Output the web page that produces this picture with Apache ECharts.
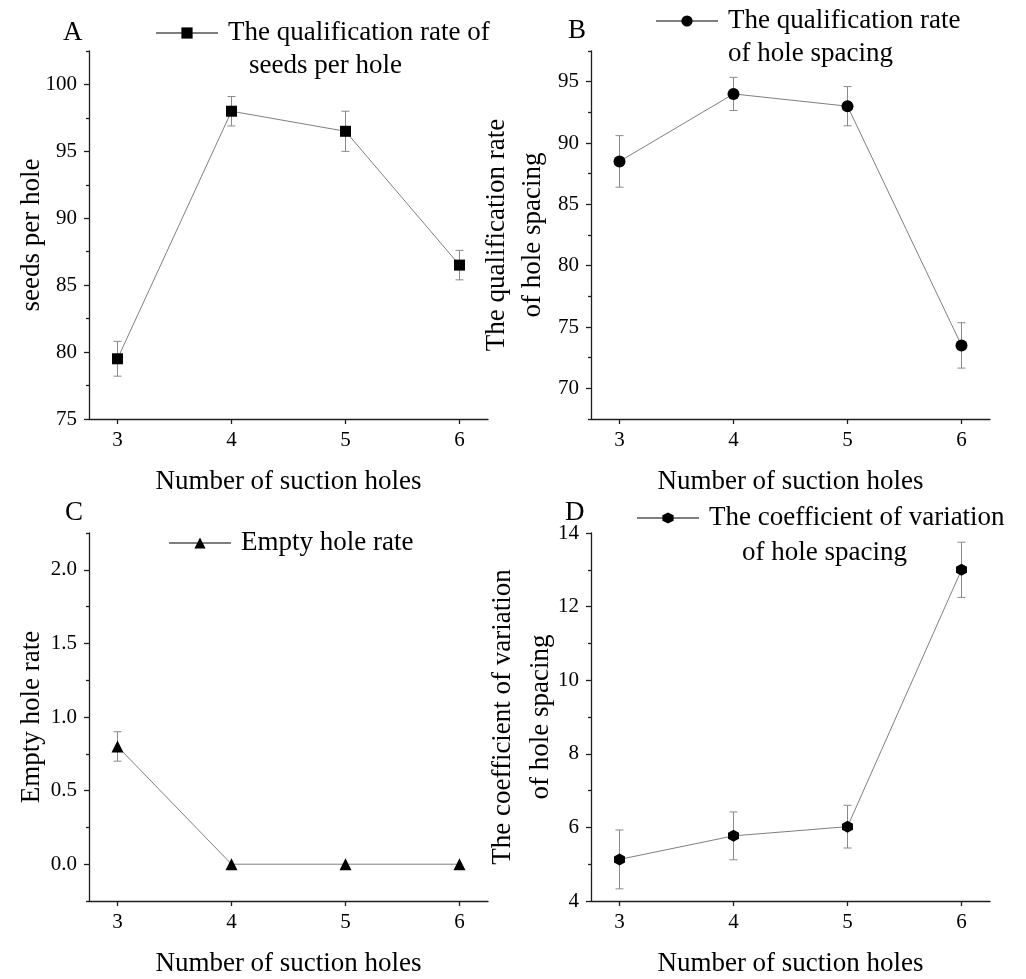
<!DOCTYPE html>
<html>
<head>
<meta charset="utf-8">
<script src="https://cdn.jsdelivr.net/npm/echarts@6/dist/echarts.min.js"></script>
<style>
  html, body { margin: 0; padding: 0; background: #fff; }
  #chart { width: 1026px; height: 979px; }
</style>
</head>
<body>
<div id="chart"></div>
<script>
// Number of suction holes (x values shared by all four panels)
const holes = [3, 4, 5, 6];
const xTicks = [3, 4, 5, 6];

// A: qualification rate of seeds per hole (%)
const seedsRate = [79.5, 98.0, 96.5, 86.5];
const seedsErr = [1.3, 1.1, 1.5, 1.1];
const seedsTicks = [75, 80, 85, 90, 95, 100];
const seedsMinor = [77.5, 82.5, 87.5, 92.5, 97.5, 102.5];

// B: qualification rate of hole spacing (%)
const spacingRate = [88.5, 94.0, 93.0, 73.5];
const spacingErr = [2.1, 1.35, 1.6, 1.85];
const spacingTicks = [70, 75, 80, 85, 90, 95];
const spacingMinor = [67.5, 72.5, 77.5, 82.5, 87.5, 92.5, 97.5];

// C: empty hole rate (%)
const emptyRate = [0.8, 0, 0, 0];
const emptyErr = [0.1, 0, 0, 0];
const emptyTicks = [0, 0.5, 1.0, 1.5, 2.0];
const emptyMinor = [-0.25, 0.25, 0.75, 1.25, 1.75, 2.25];

// D: coefficient of variation of hole spacing (%)
const spacingCV = [5.13, 5.77, 6.02, 13.0];
const cvErr = [0.8, 0.65, 0.58, 0.75];
const cvTicks = [4, 6, 8, 10, 12, 14];
const cvMinor = [5, 7, 9, 11, 13];

const SERIF = 'Liberation Serif';
const AXIS_COLOR = '#1e1e1e';
const LINE_COLOR = '#7f7f7f';
const ERR_COLOR = '#8a8a8a';

const hexagon = 'path://M0,-1 L0.866,-0.5 L0.866,0.5 L0,1 L-0.866,0.5 L-0.866,-0.5 Z';

// label only the values listed in `ticks`; the axis steps at the minor spacing
function tickFormatter(ticks, digits) {
  return v => {
    const hit = ticks.some(t => Math.abs(t - v) < 1e-6);
    return hit ? v.toFixed(digits) : '';
  };
}

const panels = [
  {
    letter: 'A', letterPos: [63, 33],
    grid: { left: 89, top: 51, width: 399, height: 368 },
    yMin: 75, yMax: 102.5, step: 2.5, ticks: seedsTicks, minor: seedsMinor, digits: 0,
    yName: 'seeds per hole', nameGap: 42, nameLineHeight: 30,
    values: seedsRate, errors: seedsErr, symbol: 'rect', symbolSize: 11,
    legend: ['The qualification rate of', 'seeds per hole'],
    legendPos: [155, 33], line2Pos: [249, 66]
  },
  {
    letter: 'B', letterPos: [568, 31],
    grid: { left: 591, top: 51, width: 399, height: 368 },
    yMin: 67.5, yMax: 97.5, step: 2.5, ticks: spacingTicks, minor: spacingMinor, digits: 0,
    yName: 'The qualification rate\nof hole spacing', nameGap: 40, nameLineHeight: 36,
    values: spacingRate, errors: spacingErr, symbol: 'circle', symbolSize: 12,
    legend: ['The qualification rate', 'of hole spacing'],
    legendPos: [655, 21], line2Pos: [728, 54]
  },
  {
    letter: 'C', letterPos: [65, 513],
    grid: { left: 89, top: 533, width: 399, height: 368 },
    yMin: -0.25, yMax: 2.25, step: 0.25, ticks: emptyTicks, minor: emptyMinor, digits: 1,
    yName: 'Empty hole rate', nameGap: 42, nameLineHeight: 30,
    values: emptyRate, errors: emptyErr, symbol: 'triangle', symbolSize: 12,
    legend: ['Empty hole rate'],
    legendPos: [168, 543], line2Pos: null
  },
  {
    letter: 'D', letterPos: [565, 513],
    grid: { left: 591, top: 533, width: 399, height: 368 },
    yMin: 4, yMax: 14, step: 1, ticks: cvTicks, minor: cvMinor, digits: 0,
    yName: 'The coefficient of variation\nof hole spacing', nameGap: 31, nameLineHeight: 38,
    values: spacingCV, errors: cvErr, symbol: hexagon, symbolSize: [11, 12],
    legend: ['The coefficient of variation', 'of hole spacing'],
    legendPos: [636, 518], line2Pos: [742, 553]
  }
];

const axisLineStyle = { color: AXIS_COLOR, width: 1.3 };

const grids = [];
const xAxes = [];
const yAxes = [];
const series = [];
const legends = [];
const graphics = [];

panels.forEach((p, i) => {
  grids.push(Object.assign({ containLabel: false, outerBoundsMode: 'none' }, p.grid));

  xAxes.push({
    gridIndex: i,
    type: 'value',
    min: 2.75,
    max: 6.25,
    interval: 0.25,
    axisLine: { show: true, onZero: false, lineStyle: axisLineStyle },
    axisTick: { show: true, length: 5, customValues: xTicks, lineStyle: axisLineStyle },
    axisLabel: {
      formatter: tickFormatter(xTicks, 0),
      showMinLabel: true, showMaxLabel: true, hideOverlap: false,
      color: '#000', fontFamily: SERIF, fontSize: 21, margin: 11
    },
    splitLine: { show: false },
    name: 'Number of suction holes',
    nameLocation: 'middle',
    nameGap: 48,
    nameMoveOverlap: false,
    nameTextStyle: { color: '#000', fontFamily: SERIF, fontSize: 27, lineHeight: 30 }
  });

  // main y axis: line, major ticks, labels and title
  yAxes.push({
    gridIndex: i,
    type: 'value',
    position: 'left',
    min: p.yMin,
    max: p.yMax,
    interval: p.step,
    axisLine: { show: true, lineStyle: axisLineStyle },
    axisTick: { show: true, length: 5, customValues: p.ticks, lineStyle: axisLineStyle },
    axisLabel: {
      formatter: tickFormatter(p.ticks, p.digits),
      showMinLabel: true, showMaxLabel: true, hideOverlap: false,
      color: '#000', fontFamily: SERIF, fontSize: 21, margin: 12
    },
    splitLine: { show: false },
    name: p.yName,
    nameLocation: 'middle',
    nameGap: p.nameGap,
    nameMoveOverlap: false,
    nameTextStyle: { color: '#000', fontFamily: SERIF, fontSize: 27, lineHeight: p.nameLineHeight }
  });
  // companion y axis carrying only the short minor ticks
  yAxes.push({
    gridIndex: i,
    type: 'value',
    position: 'left',
    offset: 0,
    min: p.yMin,
    max: p.yMax,
    axisLine: { show: false },
    axisTick: { show: true, length: 3, customValues: p.minor, lineStyle: axisLineStyle },
    axisLabel: { show: false },
    splitLine: { show: false }
  });

  const seriesName = p.legend.join(' ');

  series.push({
    name: seriesName + ' error',
    type: 'custom',
    xAxisIndex: i,
    yAxisIndex: i * 2,
    z: 1,
    silent: true,
    data: holes.map((x, k) => [x, p.values[k] - p.errors[k], p.values[k] + p.errors[k]]),
    encode: { x: 0, y: [1, 2] },
    renderItem: (params, api) => {
      const x = api.value(0);
      const lo = api.value(1);
      const hi = api.value(2);
      if (hi - lo <= 0) return null;
      const top = api.coord([x, hi]);
      const bot = api.coord([x, lo]);
      const w = 4;
      const style = { stroke: ERR_COLOR, lineWidth: 1, fill: null };
      return {
        type: 'group',
        children: [
          { type: 'line', shape: { x1: top[0], y1: top[1], x2: bot[0], y2: bot[1] }, style },
          { type: 'line', shape: { x1: top[0] - w, y1: top[1], x2: top[0] + w, y2: top[1] }, style },
          { type: 'line', shape: { x1: bot[0] - w, y1: bot[1], x2: bot[0] + w, y2: bot[1] }, style }
        ]
      };
    }
  });

  series.push({
    name: seriesName,
    type: 'line',
    xAxisIndex: i,
    yAxisIndex: i * 2,
    z: 3,
    data: holes.map((x, k) => [x, p.values[k]]),
    symbol: p.symbol,
    symbolSize: p.symbolSize,
    showAllSymbol: true,
    itemStyle: { color: '#000' },
    lineStyle: { color: LINE_COLOR, width: 1 },
    emphasis: { disabled: true }
  });

  legends.push({
    data: [seriesName],
    left: p.legendPos[0],
    top: p.legendPos[1] - 15,
    orient: 'horizontal',
    itemWidth: 62,
    itemHeight: 14,
    selectedMode: false,
    padding: 0,
    formatter: () => p.legend[0],
    textStyle: {
      color: '#000', fontFamily: SERIF, fontSize: 27, lineHeight: 30,
      padding: [0, 0, 0, 5]
    }
  });

  if (p.line2Pos) {
    graphics.push({
      type: 'text',
      x: p.line2Pos[0],
      y: p.line2Pos[1],
      style: {
        text: p.legend[1], fill: '#000', fontFamily: SERIF, fontSize: 27,
        align: 'left', verticalAlign: 'middle'
      }
    });
  }

  graphics.push({
    type: 'text',
    x: p.letterPos[0],
    y: p.letterPos[1],
    style: {
      text: p.letter, fill: '#000', fontFamily: SERIF, fontSize: 27,
      align: 'left', verticalAlign: 'middle'
    }
  });
});

const chart = echarts.init(document.getElementById('chart'), null, { renderer: 'canvas' });
chart.setOption({
  backgroundColor: '#fff',
  animation: false,
  textStyle: { fontFamily: SERIF, color: '#000' },
  grid: grids,
  xAxis: xAxes,
  yAxis: yAxes,
  legend: legends,
  series: series,
  graphic: graphics
});
</script>
</body>
</html>
